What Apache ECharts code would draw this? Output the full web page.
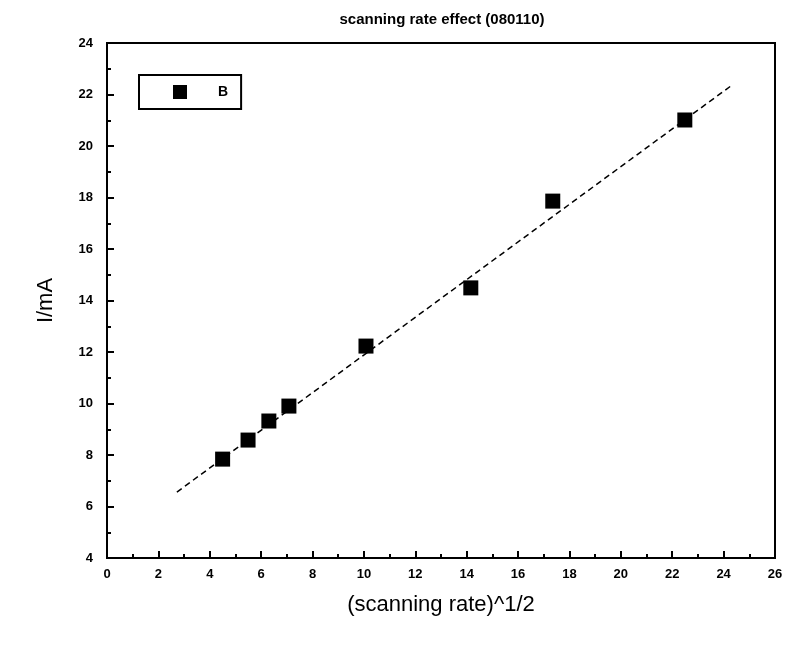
<!DOCTYPE html>
<html><head><meta charset="utf-8">
<script src="https://cdn.jsdelivr.net/npm/echarts@6/dist/echarts.min.js"></script>
<style>html,body{margin:0;padding:0;background:#fff}#c{width:796px;height:646px}</style>
</head><body><div id="c"></div>
<script>
const titleText = "scanning rate effect (080110)";
const xName = "(scanning rate)^1/2";
const yName = "I/mA";
const seriesName = "B";
const xValues = [4.5, 5.49, 6.3, 7.08, 10.08, 14.16, 17.35, 22.49];
const yValues = [7.84, 8.58, 9.32, 9.9, 12.23, 14.49, 17.86, 21.01];
const fitX = [2.72, 24.28];
const fitY = [6.56, 22.33];

const chart = echarts.init(document.getElementById('c'));
const lbl = {color:'#000', fontFamily:'Liberation Sans, Arial', fontWeight:'bold', fontSize:13};
chart.setOption({
  animation:false,
  backgroundColor:'#fff',
  title:{text:titleText, left:437, top:7, textAlign:'center',
    textStyle:{fontFamily:'Liberation Sans, Arial', fontWeight:'bold', fontSize:15, color:'#000'}},
  legend:{show:true, left:139, top:75, itemWidth:14, itemHeight:14, itemGap:10,
    padding:[10,13,10,34], borderColor:'#000', borderWidth:2,
    data:[{name:seriesName, icon:'rect', itemStyle:{color:'#000', opacity:1}}],
    textStyle:{fontFamily:'Liberation Sans, Arial', fontWeight:'bold', fontSize:14, color:'#000', padding:[0,0,0,26]}},
  grid:{left:107, right:21, top:43, bottom:88, show:true, borderColor:'#000', borderWidth:2, backgroundColor:'#fff'},
  xAxis:{type:'value', min:0, max:26, interval:2, name:xName, nameLocation:'middle', nameGap:36,
    nameTextStyle:{fontFamily:'Liberation Sans, Arial', fontSize:22, color:'#000'},
    axisLine:{show:true, onZero:false, lineStyle:{color:'#000', width:2}},
    axisTick:{show:true, inside:true, length:7, lineStyle:{color:'#000', width:2}},
    minorTick:{show:true, splitNumber:2, length:4, lineStyle:{color:'#000', width:2}},
    splitLine:{show:false}, axisLabel:Object.assign({margin:10}, lbl)},
  yAxis:{type:'value', min:4, max:24, interval:2, name:yName, nameLocation:'middle', nameGap:50,
    nameTextStyle:{fontFamily:'Liberation Sans, Arial', fontSize:22, color:'#000'},
    axisLine:{show:true, onZero:false, lineStyle:{color:'#000', width:2}},
    axisTick:{show:true, inside:true, length:7, lineStyle:{color:'#000', width:2}},
    minorTick:{show:true, splitNumber:2, length:4, lineStyle:{color:'#000', width:2}},
    splitLine:{show:false}, axisLabel:Object.assign({margin:14}, lbl)},
  series:[
    {name:'fit', type:'line', data:fitX.map((x,i)=>[x,fitY[i]]), symbol:'none',
      lineStyle:{color:'#000', width:1.5, type:[6,4]}, z:1},
    {name:seriesName, type:'scatter', data:xValues.map((x,i)=>[x,yValues[i]]),
      symbol:'rect', symbolSize:15, itemStyle:{color:'#000', opacity:1}, z:2}
  ]
});
</script></body></html>
